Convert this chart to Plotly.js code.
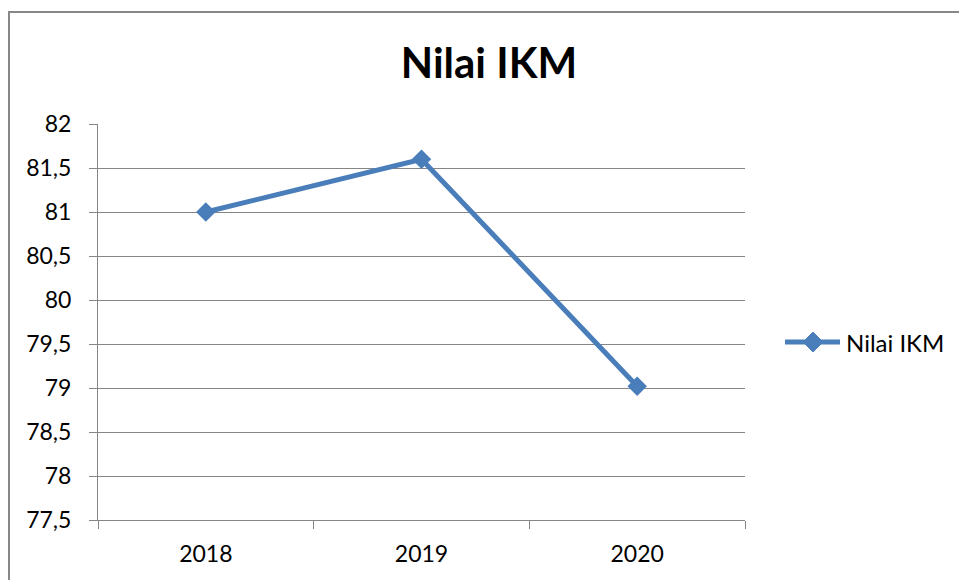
<!DOCTYPE html>
<html>
<head>
<meta charset="utf-8">
<script src="https://cdn.plot.ly/plotly-3.0.1.min.js"></script>
<style>html,body{margin:0;padding:0;background:#fff;}#chart{width:959px;height:580px;}</style>
</head>
<body>
<div id="chart"></div>
<script>
const years = ["2018", "2019", "2020"];
const nilaiIKM = [81.0, 81.6, 79.02];
const yTickVals = [77.5, 78, 78.5, 79, 79.5, 80, 80.5, 81, 81.5, 82];
const yTickText = ["77,5", "78", "78,5", "79", "79,5", "80", "80,5", "81", "81,5", "82"];
const seriesName = "Nilai IKM";
const chartTitle = "Nilai IKM";

const W = 959, H = 580;
const L = 98, R = 214, T = 124, B = 60;
const pw = W - L - R, ph = H - T - B;
const px = x => (x - L) / pw;
const py = y => (H - B - y) / ph;
const blue = "#4a7ebb";

const trace = {
  x: years,
  y: nilaiIKM,
  type: "scatter",
  mode: "lines+markers",
  name: seriesName,
  showlegend: false,
  line: {color: blue, width: 5},
  marker: {symbol: "diamond", size: 15, color: blue}
};

// manual legend (line + diamond + text) to match the long legend key
const lgY = 342, lgX0 = 785, lgX1 = 840, lgMid = 813, dr = 10;
const diamondPath = "M" + px(lgMid - dr) + "," + py(lgY) +
  " L" + px(lgMid) + "," + py(lgY - dr) +
  " L" + px(lgMid + dr) + "," + py(lgY) +
  " L" + px(lgMid) + "," + py(lgY + dr) + " Z";

const layout = {
  width: W, height: H,
  margin: {l: L, r: R, t: T, b: B, pad: 0},
  paper_bgcolor: "#fff",
  plot_bgcolor: "#fff",
  font: {family: "Lato, 'Open Sans', sans-serif", size: 23, color: "#000"},
  title: {
    text: "<b>" + chartTitle + "</b>",
    font: {family: "Lato, 'Open Sans', sans-serif", size: 42, color: "#000"},
    x: 489 / W, xanchor: "center", xref: "container",
    y: 1 - 63 / H, yanchor: "middle", yref: "container"
  },
  xaxis: {
    type: "category",
    range: [-0.5, 2.5],
    showgrid: false,
    showline: true, linecolor: "#868686", linewidth: 1,
    ticks: "outside", tickson: "boundaries", ticklen: 8, tickcolor: "#868686", tickwidth: 1,
    ticklabelstandoff: 13,
    tickfont: {size: 23, color: "#000"},
    zeroline: false, fixedrange: true
  },
  yaxis: {
    range: [77.5, 82],
    tickvals: yTickVals,
    ticktext: yTickText,
    showgrid: true, gridcolor: "#868686", gridwidth: 1,
    showline: true, linecolor: "#868686", linewidth: 1,
    ticks: "outside", ticklen: 8, tickcolor: "#868686", tickwidth: 1,
    ticklabelstandoff: 13,
    tickfont: {size: 23, color: "#000"},
    zeroline: false, fixedrange: true
  },
  showlegend: false,
  shapes: [
    {
      type: "rect", xref: "paper", yref: "paper",
      x0: px(9), x1: px(975), y0: py(595), y1: py(12),
      line: {color: "#878787", width: 2},
      fillcolor: "rgba(0,0,0,0)", layer: "below"
    },
    {
      type: "line", xref: "paper", yref: "paper",
      x0: px(lgX0), x1: px(lgX1), y0: py(lgY), y1: py(lgY),
      line: {color: blue, width: 5}
    },
    {
      type: "path", xref: "paper", yref: "paper",
      path: diamondPath, fillcolor: blue, line: {color: blue, width: 1}
    }
  ],
  annotations: [{
    xref: "paper", yref: "paper",
    x: px(844), y: py(lgY), xanchor: "left", yanchor: "middle",
    text: seriesName, showarrow: false,
    font: {size: 24, color: "#000"}
  }]
};

Plotly.newPlot("chart", [trace], layout, {displayModeBar: false, staticPlot: true});
</script>
</body>
</html>
